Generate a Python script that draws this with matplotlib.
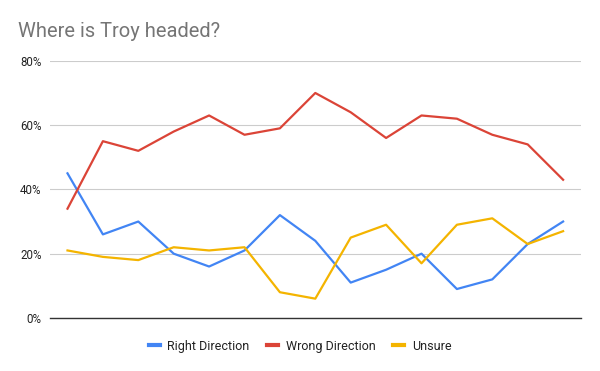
import matplotlib
matplotlib.use('Agg')
import matplotlib.pyplot as plt
from matplotlib.ticker import FuncFormatter

plt.rcParams['font.family'] = ['Roboto', 'DejaVu Sans']

# Poll values (percent)
right_direction = [45, 26, 30, 20, 16, 21, 32, 24, 11, 15, 20, 9, 12, 23, 30]
wrong_direction = [34, 55, 52, 58, 63, 57, 59, 70, 64, 56, 63, 62, 57, 54, 43]
unsure = [21, 19, 18, 22, 21, 22, 8, 6, 25, 29, 17, 29, 31, 23, 27]
y_ticks = [0, 20, 40, 60, 80]

SERIES = [
    ('Right Direction', right_direction, '#4285F4'),
    ('Wrong Direction', wrong_direction, '#DB4437'),
    ('Unsure', unsure, '#F4B400'),
]

fig = plt.figure(figsize=(6.0, 3.71), dpi=100)
ax = fig.add_axes([0.083, 0.143, 0.885, 0.693])

x = list(range(len(right_direction)))
for label, values, color in SERIES:
    ax.plot(x, values, color=color, linewidth=1.6, label=label,
            solid_joinstyle='round')

ax.set_xlim(-0.5, len(x) - 0.5)
ax.set_ylim(0, 80)
ax.set_yticks(y_ticks)
ax.yaxis.set_major_formatter(FuncFormatter(lambda v, _: f'{v:.0f}%'))
ax.set_xticks([])
ax.grid(True, axis='y', color='#cccccc', linewidth=0.8)
ax.set_axisbelow(True)
for side in ['top', 'right', 'left']:
    ax.spines[side].set_visible(False)
ax.spines['bottom'].set_color('#333333')
ax.spines['bottom'].set_linewidth(1.0)
ax.tick_params(axis='y', length=0, pad=6, labelsize=8.3, labelcolor='#222222')

fig.text(0.03, 0.915, 'Where is Troy headed?', fontsize=14.5, color='#757575',
         ha='left', va='center')

leg = fig.legend(*ax.get_legend_handles_labels(), loc='center',
                 bbox_to_anchor=(0.5, 0.067), ncol=3,
                 frameon=False, fontsize=9, handlelength=0.9,
                 handletextpad=0.6, columnspacing=1.4)
for line in leg.get_lines():
    line.set_linewidth(3)
for t in leg.get_texts():
    t.set_color('#222222')

fig.savefig('out.png', dpi=100)
